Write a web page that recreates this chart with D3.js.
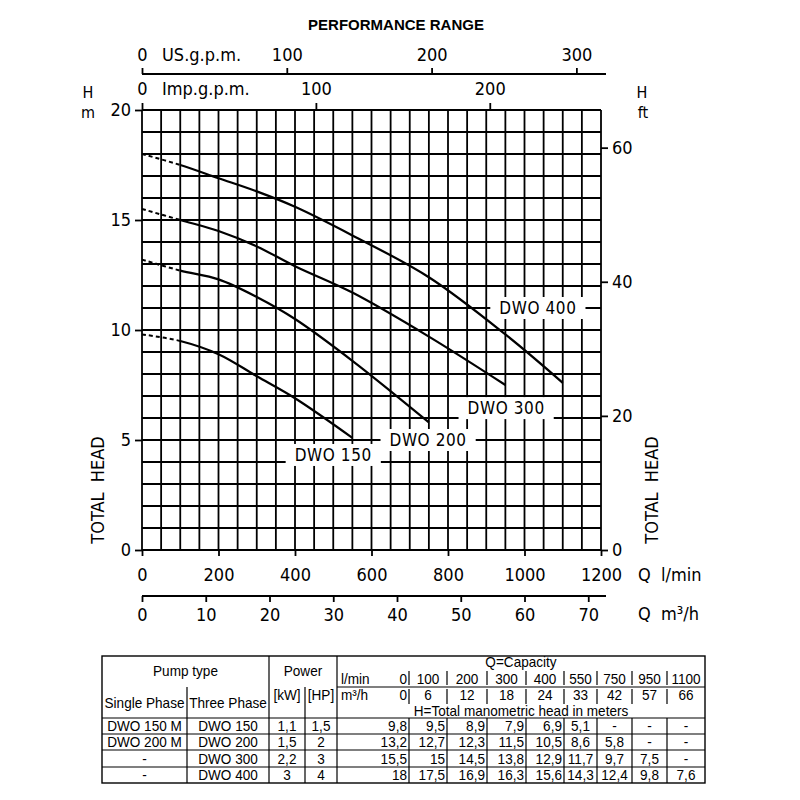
<!DOCTYPE html>
<html>
<head>
<meta charset="utf-8">
<script src="https://cdn.jsdelivr.net/npm/d3@7"></script>
<style>
  body { margin: 0; background: #fff; }
  text { white-space: pre; }
</style>
</head>
<body>
<svg width="800" height="800"></svg>
<script>
const qLmin = [0, 100, 200, 300, 400, 550, 750, 950, 1100];
const qM3h = [0, 6, 12, 18, 24, 33, 42, 57, 66];
const threePhase = ["DWO 150", "DWO 200", "DWO 300", "DWO 400"];
const singlePhase = ["DWO 150 M", "DWO 200 M", "-", "-"];
const powerKW = ["1,1", "1,5", "2,2", "3"];
const powerHP = ["1,5", "2", "3", "4"];
const headDWO150 = [9.8, 9.5, 8.9, 7.9, 6.9, 5.1, null, null, null];
const headDWO200 = [13.2, 12.7, 12.3, 11.5, 10.5, 8.6, 5.8, null, null];
const headDWO300 = [15.5, 15, 14.5, 13.8, 12.9, 11.7, 9.7, 7.5, null];
const headDWO400 = [18, 17.5, 16.9, 16.3, 15.6, 14.3, 12.4, 9.8, 7.6];
const curveNames = ["DWO 150", "DWO 200", "DWO 300", "DWO 400"];

// tick labels
const lminTicks = [0, 200, 400, 600, 800, 1000, 1200];
const m3hTicks = [0, 10, 20, 30, 40, 50, 60, 70];
const usTicks = [0, 100, 200, 300];
const impTicks = [0, 100, 200];
const mTicks = [0, 5, 10, 15, 20];
const ftTicks = [0, 20, 40, 60];

const heads = [headDWO150, headDWO200, headDWO300, headDWO400];

const svg = d3.select("svg");
const F = "'DejaVu Sans Condensed','DejaVu Sans',sans-serif";
const FT = "'Liberation Sans',Arial,sans-serif";
const intFmt = d3.format("d");

const x = d3.scaleLinear().domain([0, 1200]).range([142, 601]);
const y = d3.scaleLinear().domain([0, 20]).range([550, 110]);
const xm3 = d3.scaleLinear().domain([0, 72]).range([142, 601]);
const xus = d3.scaleLinear().domain([0, 1200 / 3.78541]).range([142, 601]);
const ximp = d3.scaleLinear().domain([0, 1200 / 4.54609]).range([142, 601]);
const yft = d3.scaleLinear().domain([0, 20 / 0.3048]).range([550, 110]);

// title
svg.append("text")
  .attr("x", 396).attr("y", 30)
  .attr("text-anchor", "middle")
  .style("font-family", "'Liberation Sans',Arial,sans-serif")
  .style("font-weight", "bold").style("font-size", "15px")
  .text("PERFORMANCE RANGE");

// grid
const grid = svg.append("g").attr("stroke", "#000").attr("stroke-width", 1.8);
grid.selectAll(".v").data(d3.range(0, 1201, 50)).enter().append("line")
  .attr("x1", d => x(d)).attr("x2", d => x(d))
  .attr("y1", y(0)).attr("y2", y(20));
grid.selectAll(".h").data(d3.range(0, 21, 1)).enter().append("line")
  .attr("x1", x(0)).attr("x2", x(1200))
  .attr("y1", d => y(d)).attr("y2", d => y(d));

function styleAxis(g) {
  g.selectAll(".tick line").attr("stroke", "#000").attr("stroke-width", 1.8);
  g.selectAll(".domain").remove();
  g.selectAll("text").attr("fill", "#000")
    .style("font-family", F).style("font-size", "18px");
}

// left H m
svg.append("g").attr("transform", `translate(${x(0)},0)`)
  .call(d3.axisLeft(y).tickValues(mTicks).tickFormat(intFmt).tickSize(7).tickPadding(4))
  .call(styleAxis);

// right H ft
svg.append("g").attr("transform", `translate(${x(1200)},0)`)
  .call(d3.axisRight(yft).tickValues(ftTicks).tickFormat(intFmt).tickSize(7).tickPadding(4))
  .call(styleAxis);

// bottom l/min
svg.append("g").attr("transform", `translate(0,${y(0)})`)
  .call(d3.axisBottom(x).tickValues(lminTicks).tickFormat(intFmt).tickSize(6).tickPadding(12))
  .call(styleAxis);

// bottom m3/h
const yM3 = 596;
svg.append("line").attr("x1", x(0)).attr("x2", x(1200) + 5)
  .attr("y1", yM3).attr("y2", yM3).attr("stroke", "#000").attr("stroke-width", 1.8);
svg.append("g").attr("transform", `translate(0,${yM3})`)
  .call(d3.axisBottom(xm3).tickValues(m3hTicks).tickFormat(intFmt).tickSize(6).tickPadding(6))
  .call(styleAxis);

// top US gpm
const yUS = 74;
svg.append("line").attr("x1", x(0)).attr("x2", x(1200) + 5)
  .attr("y1", yUS).attr("y2", yUS).attr("stroke", "#000").attr("stroke-width", 1.8);
svg.append("g").attr("transform", `translate(0,${yUS})`)
  .call(d3.axisTop(xus).tickValues(usTicks).tickFormat(intFmt).tickSize(6).tickPadding(7))
  .call(styleAxis);

// top Imp gpm
svg.append("g").attr("transform", `translate(0,${y(20)})`)
  .call(d3.axisTop(ximp).tickValues(impTicks).tickFormat(intFmt).tickSize(7).tickPadding(8))
  .call(styleAxis);

// unit labels
const units = [
  { t: "US.g.p.m.", x: 162, y: 61, a: "start", s: 18 },
  { t: "Imp.g.p.m.", x: 162, y: 95, a: "start", s: 18 },
  { t: "H", x: 88, y: 98, a: "middle", s: 16 },
  { t: "m", x: 88, y: 118, a: "middle", s: 16 },
  { t: "H", x: 642, y: 98, a: "middle", s: 16 },
  { t: "ft", x: 643, y: 118, a: "middle", s: 16 },
  { t: "Q  l/min", x: 638, y: 581, a: "start", s: 18 },
  { t: "Q  m³/h", x: 638, y: 620, a: "start", s: 18 }
];
svg.selectAll(".unit").data(units).enter().append("text")
  .attr("x", d => d.x).attr("y", d => d.y).attr("text-anchor", d => d.a)
  .style("font-family", F).style("font-size", d => d.s + "px").text(d => d.t);

[97, 651].forEach(cx => {
  svg.append("text")
    .attr("transform", `translate(${cx},490) rotate(-90)`)
    .attr("text-anchor", "middle").attr("dominant-baseline", "central")
    .style("font-family", F).style("font-size", "18px")
    .text("TOTAL  HEAD");
});

// curves: dashed up to 100 l/min, solid after
const defs = svg.append("defs");
defs.append("clipPath").attr("id", "clipDash").append("rect")
  .attr("x", 0).attr("y", 0).attr("width", x(100)).attr("height", 800);
defs.append("clipPath").attr("id", "clipSolid").append("rect")
  .attr("x", x(100)).attr("y", 0).attr("width", 800).attr("height", 800);

const line = d3.line().x(d => x(d.q)).y(d => y(d.h)).curve(d3.curveCatmullRom.alpha(0.5));
heads.forEach(hs => {
  const pts = qLmin.map((q, i) => ({ q: q, h: hs[i] })).filter(d => d.h != null);
  svg.append("path").attr("d", line(pts)).attr("clip-path", "url(#clipDash)")
    .attr("fill", "none").attr("stroke", "#000").attr("stroke-width", 2)
    .attr("stroke-dasharray", "4,3");
  svg.append("path").attr("d", line(pts)).attr("clip-path", "url(#clipSolid)")
    .attr("fill", "none").attr("stroke", "#000").attr("stroke-width", 2.2);
});

// curve labels (anchors in chart units)
const labelAt = [[500, 4.32], [748, 5], [952, 6.45], [1035, 11]];
curveNames.forEach((name, i) => {
  const g = svg.append("g");
  const t = g.append("text")
    .attr("x", x(labelAt[i][0])).attr("y", y(labelAt[i][1]))
    .attr("text-anchor", "middle").attr("dominant-baseline", "central")
    .style("font-family", F).style("font-size", "17px")
    .style("letter-spacing", "0.6px").text(name);
  const b = t.node().getBBox();
  g.insert("rect", "text")
    .attr("x", b.x - 9).attr("y", b.y - 1)
    .attr("width", b.width + 18).attr("height", b.height + 2)
    .attr("fill", "#fff");
});

// ---- table ----
const tb = svg.append("g").style("font-family", FT).style("font-size", "14px");
const T = { l: 102, single: 187, three: 269, kw: 305, cap: 337, r: 705, top: 656, hdr: 718, bot: 783 };
const capCols = [337, 409, 447, 487, 526, 564, 597, 632, 667, 705];
const rowY = [718, 734, 750, 767, 783];
const squeeze = 0.97;

function ln(x1, y1, x2, y2, w) {
  tb.append("line").attr("x1", x1).attr("y1", y1).attr("x2", x2).attr("y2", y2)
    .attr("stroke", "#000").attr("stroke-width", w || 1.2);
}
function tx(t, xx, yy, anchor) {
  tb.append("text").attr("transform", `translate(${xx},${yy}) scale(${squeeze},1)`)
    .attr("text-anchor", anchor || "middle").attr("dominant-baseline", "central").text(t);
}

tb.append("rect").attr("x", T.l).attr("y", T.top)
  .attr("width", T.r - T.l).attr("height", T.bot - T.top)
  .attr("fill", "none").attr("stroke", "#000").attr("stroke-width", 1.4);
ln(T.three, T.top, T.three, T.bot);
ln(T.cap, T.top, T.cap, T.bot);
ln(T.single, 687, T.single, T.bot);
ln(T.kw, 687, T.kw, T.bot);
ln(T.cap, 687, T.r, 687);
rowY.slice(0, 4).forEach(ry => ln(T.l, ry, T.r, ry));
capCols.slice(1, -1).forEach(cx => {
  ln(cx, 671, cx, 685);
  ln(cx, 689, cx, 704);
  ln(cx, T.hdr, cx, T.bot);
});

tx("Pump type", (T.l + T.three) / 2, 671);
tx("Single Phase", (T.l + T.single) / 2, 703);
tx("Three Phase", (T.single + T.three) / 2, 703);
tx("Power", (T.three + T.cap) / 2, 671);
tx("[kW]", (T.three + T.kw) / 2, 695);
tx("[HP]", (T.kw + T.cap) / 2, 695);
tx("Q=Capacity", (T.cap + T.r) / 2, 662);
tx("l/min", 341, 679, "start");
tx("m³/h", 341, 695, "start");
tx("H=Total manometric head in meters", (T.cap + T.r) / 2, 711);

qLmin.forEach((q, i) => {
  if (i === 0) tx(String(q), capCols[1] - 2, 679, "end");
  else tx(String(q), (capCols[i] + capCols[i + 1]) / 2, 679);
});
qM3h.forEach((q, i) => {
  if (i === 0) tx(String(q), capCols[1] - 2, 695, "end");
  else tx(String(q), (capCols[i] + capCols[i + 1]) / 2, 695);
});

const fmt = v => String(v).replace(".", ",");
threePhase.forEach((p, r) => {
  const cy = (rowY[r] + rowY[r + 1]) / 2 + 0.5;
  tx(singlePhase[r], (T.l + T.single) / 2, cy);
  tx(p, (T.single + T.three) / 2, cy);
  tx(powerKW[r], (T.three + T.kw) / 2, cy);
  tx(powerHP[r], (T.kw + T.cap) / 2, cy);
  heads[r].forEach((h, i) => {
    if (h == null) tx("-", (capCols[i] + capCols[i + 1]) / 2, cy);
    else if (i < 5) tx(fmt(h), capCols[i + 1] - 2, cy, "end");
    else tx(fmt(h), (capCols[i] + capCols[i + 1]) / 2, cy);
  });
});
</script>
</body>
</html>
